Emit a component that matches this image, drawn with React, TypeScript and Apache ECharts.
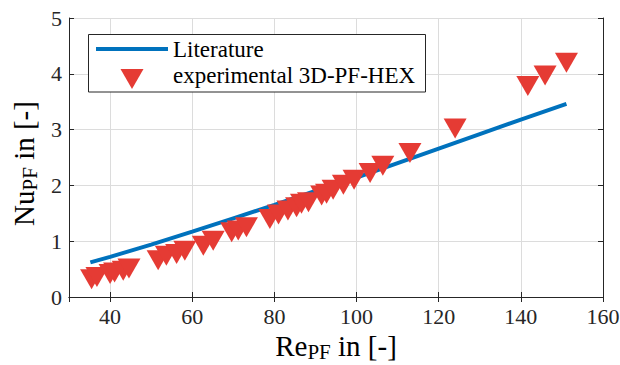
import React, { useEffect, useRef } from "react";
import * as echarts from "echarts";

// Literature correlation
const litRe = [35.2, 40, 50, 60, 70, 80, 90, 100, 110, 120, 130, 140, 151.1];
const litNu = [0.62, 0.72, 0.94, 1.17, 1.41, 1.65, 1.9, 2.14, 2.4, 2.66, 2.92, 3.18, 3.46];

// Experimental 3D-PF-HEX points (red triangles)
const expRe = [
  35.5, 36.8, 40.0, 41.1, 43.2, 44.6, 51.7, 53.7, 56.2, 58.2, 62.7, 65.1, 69.6, 71.2, 73.2,
  78.9, 81.0, 83.3, 85.4, 86.6, 88.3, 91.5, 92.7, 94.3, 96.8, 99.4, 103.3, 106.4, 113.0,
  124.0, 141.7, 145.9, 151.1,
];
const expNu = [
  0.32, 0.36, 0.41, 0.44, 0.47, 0.51, 0.66, 0.74, 0.77, 0.83, 0.92, 1.01, 1.16, 1.19, 1.25,
  1.4, 1.48, 1.55, 1.61, 1.67, 1.7, 1.82, 1.85, 1.92, 2.01, 2.1, 2.22, 2.35, 2.58,
  3.02, 3.78, 3.97, 4.2,
];

const legendNames = ["Literature", "experimental 3D-PF-HEX"];

const FONT = "Liberation Serif";
const AX = "#262626";
const BLUE = "#0072BD";
const RED = "#E53B34";

export default function App() {
  const ref = useRef<HTMLDivElement>(null);
  useEffect(() => {
    if (!ref.current) return;
    const chart = echarts.init(ref.current, undefined, { renderer: "svg" });
    const xCommon = {
      type: "value" as const,
      min: 30,
      max: 160,
      minInterval: 20,
      maxInterval: 20,
      axisLine: { show: true, lineStyle: { color: AX, width: 1 } },
      axisTick: { show: true, inside: true, length: 5, lineStyle: { color: AX } },
    };
    const yCommon = {
      type: "value" as const,
      min: 0,
      max: 5,
      interval: 1,
      axisLine: { show: true, lineStyle: { color: AX, width: 1 } },
      axisTick: { show: true, inside: true, length: 5, lineStyle: { color: AX } },
    };
    const titleRich = {
      a: { fontFamily: FONT, fontSize: 29, color: "#000" },
      b: { fontFamily: FONT, fontSize: 21, color: "#000", padding: [12, 0, 0, 0] },
    };
    chart.setOption({
      animation: false,
      backgroundColor: "#fff",
      grid: { left: 69, right: 17, top: 18, bottom: 68, containLabel: false, outerBoundsMode: "none" },
      xAxis: [
        {
          ...xCommon,
          position: "bottom",
          name: "{a|Re}{b|PF}{a| in [-]}",
          nameLocation: "middle",
          nameGap: 31,
          nameTextStyle: { fontFamily: FONT, color: "#000", rich: titleRich },
          axisLabel: {
            showMinLabel: false,
            margin: 8,
            fontFamily: FONT,
            fontSize: 22,
            color: AX,
          },
          splitLine: { show: true, lineStyle: { color: "#dcdcdc", width: 1 } },
        },
        {
          ...xCommon,
          position: "top",
          axisLabel: { show: false },
          splitLine: { show: false },
        },
      ],
      yAxis: [
        {
          ...yCommon,
          position: "left",
          name: "{a|Nu}{b|PF}{a| in [-]}",
          nameLocation: "middle",
          nameGap: 24,
          nameRotate: 90,
          nameTextStyle: { fontFamily: FONT, color: "#000", rich: titleRich, padding: [0, 12, 0, 0] },
          axisLabel: { margin: 7, fontFamily: FONT, fontSize: 22, color: AX },
          splitLine: { show: true, lineStyle: { color: "#dcdcdc", width: 1 } },
        },
        {
          ...yCommon,
          position: "right",
          axisLabel: { show: false },
          splitLine: { show: false },
        },
      ],
      series: [
        {
          name: legendNames[0],
          type: "line",
          data: litRe.map((x, i) => [x, litNu[i]]),
          showSymbol: false,
          symbol: "none",
          lineStyle: { color: BLUE, width: 4 },
          z: 2,
        },
        {
          name: legendNames[1],
          type: "scatter",
          data: expRe.map((x, i) => [x, expNu[i]]),
          symbol: "triangle",
          symbolRotate: 180,
          symbolSize: [23, 20],
          itemStyle: { color: RED, opacity: 1 },
          z: 3,
        },
      ],
      graphic: [
        {
          type: "group",
          z: 100,
          children: [
            {
              type: "rect",
              shape: { x: 88.5, y: 34.5, width: 337, height: 57.5 },
              style: { fill: "#fff", stroke: AX, lineWidth: 1 },
              z: 100,
            },
            {
              type: "line",
              shape: { x1: 96, y1: 49, x2: 168, y2: 49 },
              style: { stroke: BLUE, lineWidth: 4 },
              z: 101,
            },
            {
              type: "polygon",
              shape: { points: [[120.5, 69], [143.5, 69], [132, 89]] },
              style: { fill: RED },
              z: 101,
            },
            {
              type: "text",
              x: 173,
              y: 49,
              style: {
                text: legendNames[0],
                fontFamily: FONT,
                fontSize: 23,
                fill: "#000",
                verticalAlign: "middle",
                align: "left",
              },
              z: 101,
            },
            {
              type: "text",
              x: 173,
              y: 75,
              style: {
                text: legendNames[1],
                fontFamily: FONT,
                fontSize: 23,
                fill: "#000",
                verticalAlign: "middle",
                align: "left",
              },
              z: 101,
            },
          ],
        },
      ],
    });
    return () => chart.dispose();
  }, []);
  return <div ref={ref} style={{ width: 620, height: 365, position: "absolute", left: 0, top: 0 }} />;
}
